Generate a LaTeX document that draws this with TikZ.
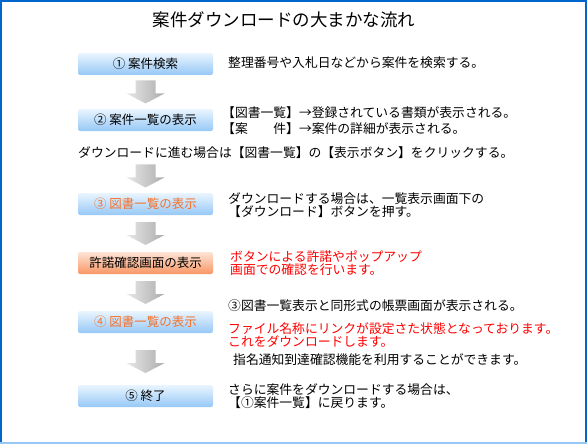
\documentclass[tikz,border=0pt]{standalone}
\usepackage{fontspec}
\setmainfont{Noto Sans CJK JP}
\usetikzlibrary{positioning,calc}
\definecolor{dlblue}{RGB}{0,102,204}
\definecolor{dlsky}{RGB}{150,200,246}
\definecolor{dlpale}{RGB}{234,245,255}
\definecolor{dlpeach}{RGB}{254,228,214}
\definecolor{dlorange}{RGB}{248,150,100}
\definecolor{dltext}{RGB}{244,112,40}
\definecolor{dlred}{RGB}{255,0,0}
\tikzset{
  stepbox/.style={top color=dlpale, bottom color=dlsky, rounded corners=2pt,
    minimum width=135pt, minimum height=22pt, inner sep=0pt,
    font=\fontsize{12.5}{13}\selectfont},
  warnbox/.style={stepbox, top color=dlpeach, bottom color=dlorange},
  note/.style={anchor=west, inner sep=0pt, align=left,
    font=\fontsize{12.8}{12.5}\selectfont},
  rednote/.style={note, text=dlred},
  flowarr/.pic={
    \shade[left color=gray!18, right color=gray!65]
      (-10,-11.5) -- (10,-11.5) -- (10,1.5) -- (19,1.5) -- (0,11.5)
      -- (-19,1.5) -- (-10,1.5) -- cycle;
  }
}

\begin{document}
\begin{tikzpicture}[x=1pt,y=-1pt]
  \path[use as bounding box] (0,0) rectangle (587,444);
  % frame
  \draw[dlblue, line width=2pt] (1,444) |- (585.5,1) -- (585.5,444);
  \draw[dlsky, line width=2.5pt] (0,443) -- (587,443);

  \node[font=\fontsize{17.5}{18}\selectfont] (title) at (284,20) {案件ダウンロードの大まかな流れ};

  % steps
  \node[stepbox] (b1) at (145.5,64) {① 案件検索};
  \node[stepbox] (b2) at (145.5,120) {② 案件一覧の表示};
  \node[stepbox, text=dltext] (b3) at (145.5,204) {③ 図書一覧の表示};
  \node[warnbox] (b4) at (145.5,263) {許諾確認画面の表示};
  \node[stepbox, text=dltext] (b5) at (145.5,322) {④ 図書一覧の表示};
  \node[stepbox] (b6) at (145.5,396) {⑤ 終了};

  % notes
  \node[note] (t1) at (228,63) {整理番号や入札日などから案件を検索する。};
  \node[note, font=\fontsize{12.8}{15.5}\selectfont] (t2) at (222,120.5) {【図書一覧】→登録されている書類が表示される。\\【案　　件】→案件の詳細が表示される。};
  \node[note] (go) at (78,153) {ダウンロードに進む場合は【図書一覧】の【表示ボタン】をクリックする。};
  \node[note] (t3) at (228,205) {ダウンロードする場合は、一覧表示画面下の\\【ダウンロード】ボタンを押す。};
  \node[rednote] (t4) at (230,263) {ボタンによる許諾やポップアップ\\画面での確認を行います。};
  \node[note] (t5) at (228,306) {③図書一覧表示と同形式の帳票画面が表示される。};
  \node[rednote] (t5red) at (228,335) {ファイル名称にリンクが設定さた状態となっております。\\これをダウンロードします。};
  \node[note] (t5end) at (233,360) {指名通知到達確認機能を利用することができます。};
  \node[note] (t6) at (228,396) {さらに案件をダウンロードする場合は、\\【①案件一覧】に戻ります。};

  % arrows
  \pic at ($(b1.south)!0.5!(b2.north)$) {flowarr};
  \pic at ($(go.south -| b3.north)!0.5!(b3.north)$) {flowarr};
  \pic at ($(b3.south)!0.5!(b4.north)$) {flowarr};
  \pic at ($(b4.south)!0.5!(b5.north)$) {flowarr};
  \pic at ($(b5.south)!0.55!(b6.north)$) {flowarr};
\end{tikzpicture}
\end{document}
